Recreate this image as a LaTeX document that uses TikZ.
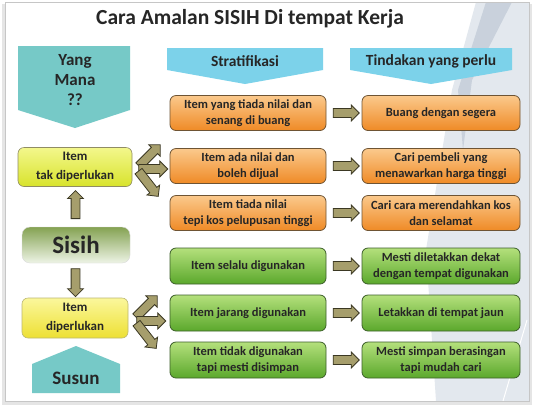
\documentclass[tikz,border=0pt]{standalone}
\usepackage{fontspec}
\setmainfont{Carlito}
\usetikzlibrary{shapes.arrows}
\definecolor{txt}{HTML}{262626}
\definecolor{otop}{HTML}{FBC98C}
\definecolor{obot}{HTML}{EF8A26}
\definecolor{obrd}{HTML}{6E5434}
\definecolor{gtop}{HTML}{B4E07C}
\definecolor{gbot}{HTML}{5BA82C}
\definecolor{gbrd}{HTML}{3C5E2A}
\definecolor{ban}{HTML}{7CD2EA}
\definecolor{teal}{HTML}{76C9C7}
\definecolor{arf}{HTML}{A69E6C}
\definecolor{ard}{HTML}{3B3823}
\definecolor{ytop}{HTML}{F3F78C}
\definecolor{ybot}{HTML}{D8E32C}
\definecolor{y2top}{HTML}{FBF79C}
\definecolor{y2bot}{HTML}{EDE033}
\definecolor{stop}{HTML}{84A252}
\definecolor{sbot}{HTML}{EEF4E6}
\definecolor{deco1}{HTML}{E3E8EE}
\definecolor{deco2}{HTML}{C9D1DC}
\begin{document}
\begin{tikzpicture}[x=1pt,y=-1pt]
\tikzset{
  lbl/.style={text=txt, font=\bfseries\fontsize{12.5}{16.5}\selectfont, align=center},
  obox/.style={lbl, rounded corners=6pt, draw=obrd, line width=0.8pt, top color=otop, bottom color=obot, minimum height=35pt, inner sep=1pt},
  gbox/.style={lbl, rounded corners=6pt, draw=gbrd, line width=0.8pt, top color=gtop, bottom color=gbot, minimum height=36pt, inner sep=1pt},
  lbox/.style={obox, minimum width=156pt},
  rbox/.style={obox, minimum width=158pt},
  lgbox/.style={gbox, minimum width=156pt},
  rgbox/.style={gbox, minimum width=158pt},
  blk/.style={single arrow, draw=ard, fill=arf, line width=0.8pt, minimum width=16pt, single arrow head extend=3.5pt, inner xsep=0pt, inner ysep=4pt},
  hdr/.style={text=txt, font=\bfseries\fontsize{15.5}{18}\selectfont, align=center},
  ybox/.style={lbl, font=\bfseries\fontsize{13}{19}\selectfont, rounded corners=6pt, line width=0.6pt, inner sep=1pt},
}
\useasboundingbox (0,0) rectangle (534,408);
% slide and shadow
\fill[gray!35] (3,5) rectangle (531,404);
\fill[gray!20] (2,4) rectangle (532,405);
\fill[white] (5,2) rectangle (529,401);
% decor
\fill[deco1] (476,2) -- (529,2) -- (529,401) -- (436,401) -- (426,250) -- (452,90) -- cycle;
\fill[deco2] (486,2) -- (512,2) -- (472,80) -- (463,150) -- (458,90) -- cycle;
\draw[white, line width=1pt] (503,401) -- (527,320);
\draw[gray!45, line width=0.5pt] (5,2) rectangle (529,401);

% title
\node[text=txt, font=\bfseries\fontsize{21.5}{24}\selectfont] (title) at (250,19) {Cara Amalan SISIH Di tempat Kerja};

% banners
\fill[teal] (18,46) -- (130,46) -- (130,110) -- (75,128) -- (18,110) -- cycle;
\node[hdr, font=\bfseries\fontsize{17}{20}\selectfont] (mana) at (75,80) {Yang\\Mana\\??};
\fill[ban] (167,48) -- (323,48) -- (323,70) -- (245,84) -- (167,70) -- cycle;
\node[hdr] (strat) at (245,61) {Stratifikasi};
\fill[ban] (350,48) -- (512,48) -- (512,70) -- (431,84) -- (350,70) -- cycle;
\node[hdr] (tind) at (431,61) {Tindakan yang perlu};
\fill[teal] (32,364) -- (76,346) -- (120,364) -- (120,393) -- (32,393) -- cycle;
\node[text=txt, font=\bfseries\fontsize{19}{22}\selectfont] (susun) at (76,378) {Susun};

% left column
\node[ybox, draw=gray!70!olive, top color=ytop, bottom color=ybot, minimum width=114pt, minimum height=39pt] (tak) at (75,167) {Item\\tak diperlukan};
\node[text=txt, font=\bfseries\fontsize{25}{28}\selectfont, rounded corners=8pt, draw=gray!30, top color=stop, bottom color=sbot, minimum width=108pt, minimum height=36pt, inner sep=1pt] (sisih) at (76,245) {Sisih};
\node[ybox, draw=gray!60!yellow, top color=y2top, bottom color=y2bot, minimum width=106pt, minimum height=40pt] (perlu) at (75,318) {Item\\diperlukan};

% rows
\node[lbox] (o1) at (248,113) {Item yang tiada nilai dan\\senang di buang};
\node[rbox] (p1) at (441,113) {Buang dengan segera};
\node[lbox] (o2) at (248,166) {Item ada nilai dan\\boleh dijual};
\node[rbox] (p2) at (441,166) {Cari pembeli yang\\menawarkan harga tinggi};
\node[lbox] (o3) at (248,213) {Item tiada nilai\\tepi kos pelupusan tinggi};
\node[rbox] (p3) at (441,213) {Cari cara merendahkan kos\\dan selamat};
\node[lgbox] (g1) at (248,266) {Item selalu digunakan};
\node[rgbox] (q1) at (441,266) {Mesti diletakkan dekat\\dengan tempat digunakan};
\node[lgbox] (g2) at (248,313) {Item jarang digunakan};
\node[rgbox] (q2) at (441,313) {Letakkan di tempat jaun};
\node[lgbox] (g3) at (248,360) {Item tidak digunakan\\tapi mesti disimpan};
\node[rgbox] (q3) at (441,360) {Mesti simpan berasingan\\tapi mudah cari};

% row arrows
\foreach \a/\b in {o1/p1,o2/p2,o3/p3,g1/q1,g2/q2,g3/q3}{
  \path (\a.east) -- (\b.west) node[blk, midway, minimum height=26pt] {};
}
% vertical arrows
\path (sisih.north) -- (tak.south) node[blk, midway, minimum height=28pt, minimum width=15pt, rotate=90] (up) {};
\path (sisih.south) -- (perlu.north) node[blk, midway, minimum height=28pt, minimum width=15pt, rotate=-90] (down) {};

% fan arrows upper
\node[blk, minimum height=30pt, rotate=45] (fa1) at (148,157) {};
\node[blk, minimum height=29pt] (fa2) at (151,169) {};
\node[blk, minimum height=32pt, rotate=-52] (fa3) at (147,182) {};
% fan arrows lower
\node[blk, minimum height=30pt, rotate=45] (fb1) at (145,308) {};
\node[blk, minimum height=29pt] (fb2) at (149,321) {};
\node[blk, minimum height=32pt, rotate=-52] (fb3) at (145,334) {};
\end{tikzpicture}
\end{document}
